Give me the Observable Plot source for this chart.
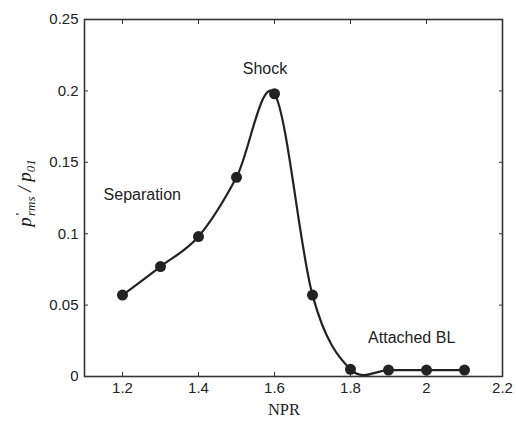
<!DOCTYPE html>
<html>
<head>
<meta charset="utf-8">
<script src="https://cdn.jsdelivr.net/npm/d3@7"></script>
<script src="https://cdn.jsdelivr.net/npm/@observablehq/plot@0.6"></script>
<style>
  html, body { margin: 0; padding: 0; background: #fff; }
  #chart { width: 516px; height: 421px; }
  svg { display: block; }
</style>
</head>
<body>
<div id="chart"></div>
<script>
// Data
const npr = [1.2, 1.3, 1.4, 1.5, 1.6, 1.7, 1.8, 1.9, 2.0, 2.1];
const prms = [0.057, 0.077, 0.098, 0.1395, 0.198, 0.057, 0.005, 0.0045, 0.0045, 0.0045];

const xTicks = [1.2, 1.4, 1.6, 1.8, 2.0, 2.2];
const xTickLabels = ["1.2", "1.4", "1.6", "1.8", "2", "2.2"];
const yTicks = [0, 0.05, 0.1, 0.15, 0.2, 0.25];
const yTickLabels = ["0", "0.05", "0.1", "0.15", "0.2", "0.25"];

const annText = ["Separation", "Shock", "Attached BL"];
const annX = [1.252, 1.575, 1.961];
const annY = [0.127, 0.2157, 0.0273];

const points = npr.map((x, i) => ({x, y: prms[i]}));
const anns = annText.map((t, i) => ({t, x: annX[i], y: annY[i]}));

const ink = "#222";
const sans = "'Liberation Sans', Arial, Helvetica, sans-serif";
const serif = "'Liberation Serif', 'Times New Roman', serif";

const chart = Plot.plot({
  width: 516,
  height: 421,
  marginLeft: 84,
  marginRight: 14,
  marginTop: 19,
  marginBottom: 45,
  style: {fontFamily: sans, fontSize: "15px", color: ink, background: "#fff"},
  x: {domain: [1.1, 2.2]},
  y: {domain: [0, 0.25]},
  marks: [
    Plot.frame({stroke: "#333", strokeWidth: 1.6}),
    Plot.axisX({ticks: xTicks, tickSize: -4, tickPadding: 10, stroke: "#333",
      tickFormat: (d) => xTickLabels[xTicks.indexOf(d)], label: null, fontSize: 15}),
    Plot.axisX({anchor: "top", ticks: xTicks, tickSize: -4, stroke: "#333",
      tickFormat: () => "", label: null}),
    Plot.axisY({ticks: yTicks, tickSize: -4, tickPadding: 10, stroke: "#333",
      tickFormat: (d) => yTickLabels[yTicks.indexOf(d)], label: null, fontSize: 15}),
    Plot.axisY({anchor: "right", ticks: yTicks, tickSize: -4, stroke: "#333",
      tickFormat: () => "", label: null}),
    Plot.line(points, {x: "x", y: "y", curve: "cardinal", stroke: ink, strokeWidth: 2.2}),
    Plot.dot(points, {x: "x", y: "y", r: 5.5, fill: ink, stroke: "none"}),
    Plot.text(anns, {x: "x", y: "y", text: "t", fontSize: 16, fill: ink, fontFamily: sans})
  ]
});

document.getElementById("chart").appendChild(chart);

// Axis titles
const svg = d3.select(chart);
svg.append("text")
  .attr("x", 284).attr("y", 415)
  .attr("text-anchor", "middle")
  .attr("font-family", serif)
  .attr("font-size", 16.5)
  .attr("fill", ink)
  .text("NPR");

const yl = svg.append("text")
  .attr("transform", "translate(31,193) rotate(-90)")
  .attr("text-anchor", "middle")
  .attr("font-family", serif)
  .attr("font-style", "italic")
  .attr("font-size", 19)
  .attr("fill", ink);
yl.append("tspan").text("p");
yl.append("tspan").attr("font-size", 13).attr("dy", -7).text("\u2019");
yl.append("tspan").attr("font-size", 13).attr("dx", -3).attr("dy", 11).text("rms");
yl.append("tspan").attr("dy", -4).text(" / p");
yl.append("tspan").attr("font-size", 13).attr("dy", 4).text("01");
</script>
</body>
</html>
